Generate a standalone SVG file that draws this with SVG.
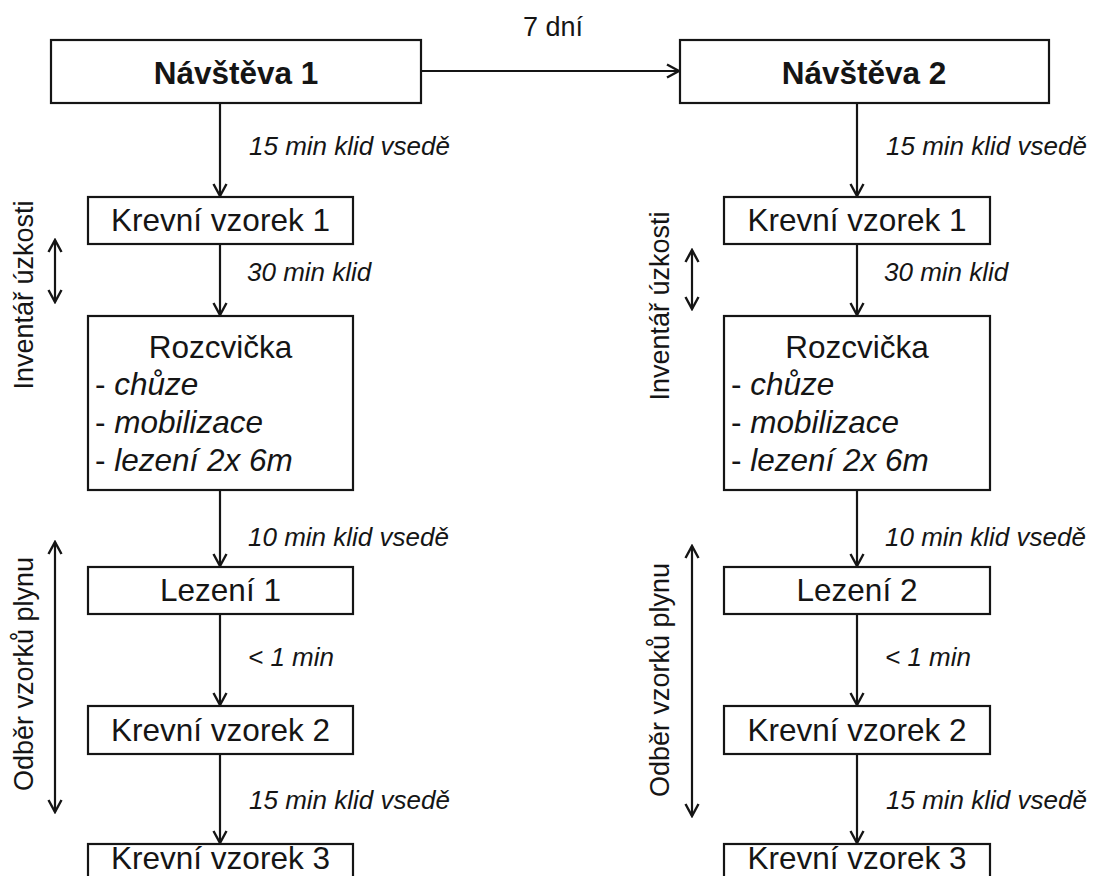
<svg xmlns="http://www.w3.org/2000/svg" width="1094" height="876" viewBox="0 0 1094 876">
<style>
.box{fill:#fff;stroke:#151515;stroke-width:2.2}
.t{font-family:"Liberation Sans",Arial,sans-serif;font-size:31.5px;fill:#151515}
.b{font-family:"Liberation Sans",Arial,sans-serif;font-size:31.5px;font-weight:bold;fill:#151515}
.lab{font-family:"Liberation Sans",Arial,sans-serif;font-size:26px;font-style:italic;fill:#151515}
.side{font-family:"Liberation Sans",Arial,sans-serif;font-size:27px;fill:#151515}
.it{font-style:italic}
.ca{stroke:#151515;stroke-width:2.2;fill:none;marker-end:url(#ah)}
.dbl{stroke:#151515;stroke-width:2.2;fill:none;marker-start:url(#ah);marker-end:url(#ah)}
</style>
<defs>
<marker id="ah" markerUnits="userSpaceOnUse" viewBox="-14 -8 16 16" refX="0" refY="0" markerWidth="16" markerHeight="16" orient="auto-start-reverse">
<path d="M-12,-6.5 L0,0 L-12,6.5" fill="none" stroke="#151515" stroke-width="2.4"/>
</marker>
</defs>
<rect width="1094" height="876" fill="#fff"/>

<g id="connectors">
<path class="ca" d="M421,71 H679"/>
<path class="ca" d="M220,103 V196"/>
<path class="ca" d="M220,244 V315"/>
<path class="ca" d="M220,490 V566"/>
<path class="ca" d="M220,614 V705"/>
<path class="ca" d="M220,754 V843"/>
<path class="ca" d="M857,103 V196"/>
<path class="ca" d="M857,244 V315"/>
<path class="ca" d="M857,490 V566"/>
<path class="ca" d="M857,614 V705"/>
<path class="ca" d="M857,754 V843"/>
<path class="dbl" d="M55,240 V302"/>
<path class="dbl" d="M55,542 V812"/>
<path class="dbl" d="M692,250 V309"/>
<path class="dbl" d="M692,546 V816"/>
</g>

<g id="labels">
<text class="side" x="553" y="36" text-anchor="middle">7 dní</text>
<text class="lab" x="249" y="155">15 min klid vsedě</text>
<text class="lab" x="247" y="281">30 min klid</text>
<text class="lab" x="248" y="546">10 min klid vsedě</text>
<text class="lab" x="248" y="666">&lt; 1 min</text>
<text class="lab" x="249" y="809">15 min klid vsedě</text>
<text class="lab" x="886" y="155">15 min klid vsedě</text>
<text class="lab" x="884" y="281">30 min klid</text>
<text class="lab" x="885" y="546">10 min klid vsedě</text>
<text class="lab" x="885" y="666">&lt; 1 min</text>
<text class="lab" x="886" y="809">15 min klid vsedě</text>
<text class="side" transform="translate(33,295) rotate(-90)" text-anchor="middle">Inventář úzkosti</text>
<text class="side" transform="translate(33,674) rotate(-90)" text-anchor="middle">Odběr vzorků plynu</text>
<text class="side" transform="translate(669,306) rotate(-90)" text-anchor="middle">Inventář úzkosti</text>
<text class="side" transform="translate(669,680) rotate(-90)" text-anchor="middle">Odběr vzorků plynu</text>
</g>

<g id="navsteva1">
<rect class="box" x="51" y="40" width="370" height="63"/>
<text class="b" x="236" y="84" text-anchor="middle">Návštěva 1</text>
</g>
<g id="navsteva2">
<rect class="box" x="680" y="40" width="369" height="63"/>
<text class="b" x="864" y="84" text-anchor="middle">Návštěva 2</text>
</g>

<g id="krev1-l">
<rect class="box" x="88" y="197" width="265" height="47"/>
<text class="t" x="220.5" y="231" text-anchor="middle">Krevní vzorek 1</text>
</g>
<g id="rozcvicka-l">
<rect class="box" x="88" y="316" width="265" height="174"/>
<text class="t" x="220.5" y="358" text-anchor="middle">Rozcvička</text>
<text class="t" x="95" y="395">- <tspan class="it">chůze</tspan></text>
<text class="t" x="95" y="433">- <tspan class="it">mobilizace</tspan></text>
<text class="t" x="95" y="471">- <tspan class="it">lezení 2x 6m</tspan></text>
</g>
<g id="lezeni-l">
<rect class="box" x="88" y="567" width="265" height="47"/>
<text class="t" x="220.5" y="601" text-anchor="middle">Lezení 1</text>
</g>
<g id="krev2-l">
<rect class="box" x="88" y="706" width="265" height="48"/>
<text class="t" x="220.5" y="741" text-anchor="middle">Krevní vzorek 2</text>
</g>
<g id="krev3-l">
<rect class="box" x="88" y="844" width="265" height="47"/>
<text class="t" x="220.5" y="869" text-anchor="middle">Krevní vzorek 3</text>
</g>

<g id="krev1-r">
<rect class="box" x="724" y="197" width="266" height="47"/>
<text class="t" x="857" y="231" text-anchor="middle">Krevní vzorek 1</text>
</g>
<g id="rozcvicka-r">
<rect class="box" x="724" y="316" width="266" height="174"/>
<text class="t" x="857" y="358" text-anchor="middle">Rozcvička</text>
<text class="t" x="731" y="395">- <tspan class="it">chůze</tspan></text>
<text class="t" x="731" y="433">- <tspan class="it">mobilizace</tspan></text>
<text class="t" x="731" y="471">- <tspan class="it">lezení 2x 6m</tspan></text>
</g>
<g id="lezeni-r">
<rect class="box" x="724" y="567" width="266" height="47"/>
<text class="t" x="857" y="601" text-anchor="middle">Lezení 2</text>
</g>
<g id="krev2-r">
<rect class="box" x="724" y="706" width="266" height="48"/>
<text class="t" x="857" y="741" text-anchor="middle">Krevní vzorek 2</text>
</g>
<g id="krev3-r">
<rect class="box" x="724" y="844" width="266" height="47"/>
<text class="t" x="857" y="869" text-anchor="middle">Krevní vzorek 3</text>
</g>
</svg>
